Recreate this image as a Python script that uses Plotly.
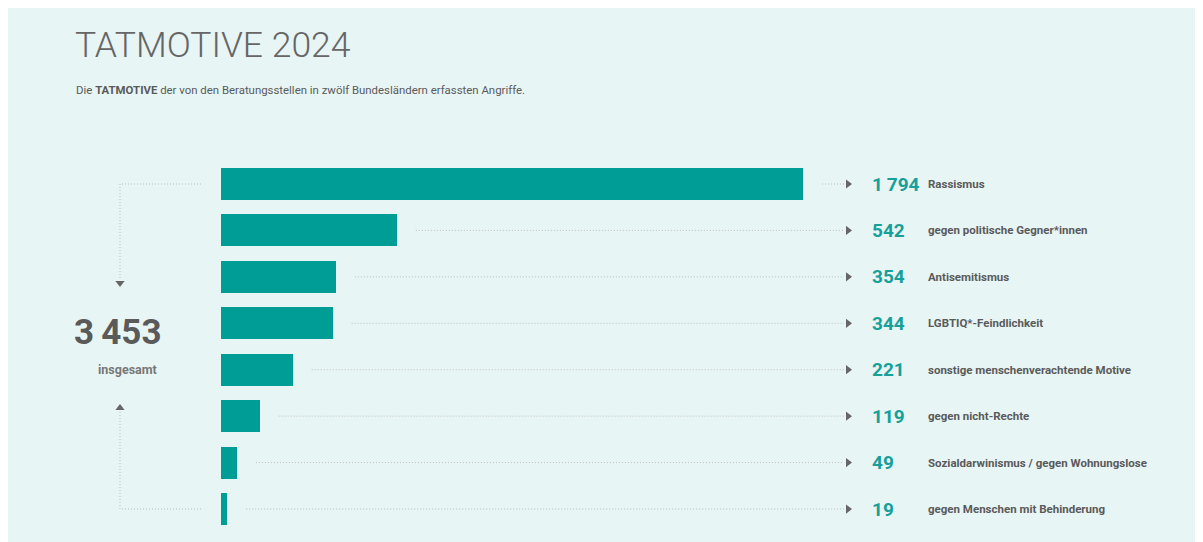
import plotly.graph_objects as go

# ---- data ----
categories = [
    "Rassismus",
    "gegen politische Gegner*innen",
    "Antisemitismus",
    "LGBTIQ*-Feindlichkeit",
    "sonstige menschenverachtende Motive",
    "gegen nicht-Rechte",
    "Sozialdarwinismus / gegen Wohnungslose",
    "gegen Menschen mit Behinderung",
]
values = [1794, 542, 354, 344, 221, 119, 49, 19]
value_labels = ["1\u2009794", "542", "354", "344", "221", "119", "49", "19"]
total_label = "3\u2009453"
title_text = "TATMOTIVE 2024"
subtitle_text = "Die <b>TATMOTIVE</b> der von den Beratungsstellen in zwölf Bundesländern erfassten Angriffe."

# ---- layout geometry (pixels, relative to the figure; page has 8px body margin) ----
OFF = 8.0
W, H = 1203, 542
BAR_X0 = 221.0 - OFF
BAR_MAX_PX = 803.0 - OFF
ROW0_Y = 184.0 - OFF
ROW_STEP = 46.43
k = (BAR_MAX_PX - BAR_X0) / max(values)  # px per unit

def px_to_x(px):
    return (px - OFF - BAR_X0) / k

def py_to_y(py):
    return (py - OFF - ROW0_Y) / ROW_STEP

def pxp(px):
    return (px - OFF) / W

def pyp(py):
    return 1 - (py - OFF) / H

teal = "#009C96"
teal_text = "#17A09A"
gray = "#5a5a5a"
dot_gray = "#bdbdbd"
panel = "#E8F5F5"

idx = list(range(len(values)))

fig = go.Figure()
fig.add_trace(go.Bar(
    x=values, y=idx, orientation="h", width=0.69,
    marker=dict(color=teal, line=dict(width=0)),
    hoverinfo="skip", showlegend=False,
))

ARROW_PX = 848.0
for i, v in enumerate(values):
    fig.add_trace(go.Scatter(
        x=[v + 19 / k, px_to_x(ARROW_PX - 4)], y=[i, i],
        mode="lines", line=dict(color=dot_gray, width=1, dash="1px,2px"),
        hoverinfo="skip", showlegend=False,
    ))
fig.add_trace(go.Scatter(
    x=[px_to_x(ARROW_PX)] * len(values), y=idx, mode="markers",
    marker=dict(symbol="triangle-right", size=8, color="#666666"),
    hoverinfo="skip", showlegend=False,
))

annotations = []
for i, (vl, c) in enumerate(zip(value_labels, categories)):
    annotations.append(dict(
        x=px_to_x(870), y=i, xref="x", yref="y", text=f"<b>{vl}</b>",
        showarrow=False, xanchor="left", yanchor="middle",
        font=dict(family="Roboto", size=19, color=teal_text),
    ))
    annotations.append(dict(
        x=px_to_x(926), y=i, xref="x", yref="y", text=f"<b>{c}</b>",
        showarrow=False, xanchor="left", yanchor="middle",
        font=dict(family="Roboto", size=11.5, color=gray),
    ))

annotations.append(dict(
    x=pxp(117), y=pyp(332), xref="paper", yref="paper", text=f"<b>{total_label}</b>",
    showarrow=False, xanchor="center", yanchor="middle",
    font=dict(family="Roboto", size=35, color=gray),
))
annotations.append(dict(
    x=pxp(127), y=pyp(370), xref="paper", yref="paper", text="<b>insgesamt</b>",
    showarrow=False, xanchor="center", yanchor="middle",
    font=dict(family="Roboto", size=12.5, color="#777777"),
))
annotations.append(dict(
    x=pxp(73), y=pyp(45), xref="paper", yref="paper", text=title_text,
    showarrow=False, xanchor="left", yanchor="middle",
    font=dict(family="Roboto", size=35.5, color="#666666", weight=300),
))
annotations.append(dict(
    x=pxp(74), y=pyp(90), xref="paper", yref="paper", text=subtitle_text,
    showarrow=False, xanchor="left", yanchor="middle",
    font=dict(family="Roboto", size=11.4, color=gray),
))

BR_X = px_to_x(120)
BR_X1 = px_to_x(201)
top_y = 0
bot_y = len(values) - 1
fig.add_trace(go.Scatter(
    x=[BR_X1, BR_X, BR_X], y=[top_y, top_y, py_to_y(278)],
    mode="lines", line=dict(color=dot_gray, width=1, dash="1px,2px"),
    hoverinfo="skip", showlegend=False,
))
fig.add_trace(go.Scatter(
    x=[BR_X1, BR_X, BR_X], y=[bot_y, bot_y, py_to_y(412)],
    mode="lines", line=dict(color=dot_gray, width=1, dash="1px,2px"),
    hoverinfo="skip", showlegend=False,
))
fig.add_trace(go.Scatter(
    x=[BR_X, BR_X], y=[py_to_y(283), py_to_y(408)], mode="markers",
    marker=dict(symbol=["triangle-down", "triangle-up"], size=8, color="#666666"),
    hoverinfo="skip", showlegend=False,
))

fig.update_layout(
    width=W, height=H,
    margin=dict(l=0, r=0, t=0, b=0),
    paper_bgcolor=panel, plot_bgcolor="rgba(0,0,0,0)",
    xaxis=dict(range=[px_to_x(OFF), px_to_x(OFF + W)], visible=False, fixedrange=True),
    yaxis=dict(range=[py_to_y(OFF + H), py_to_y(OFF)], visible=False, fixedrange=True),
    annotations=annotations,
    bargap=0,
)

fig.write_html("out.html")
